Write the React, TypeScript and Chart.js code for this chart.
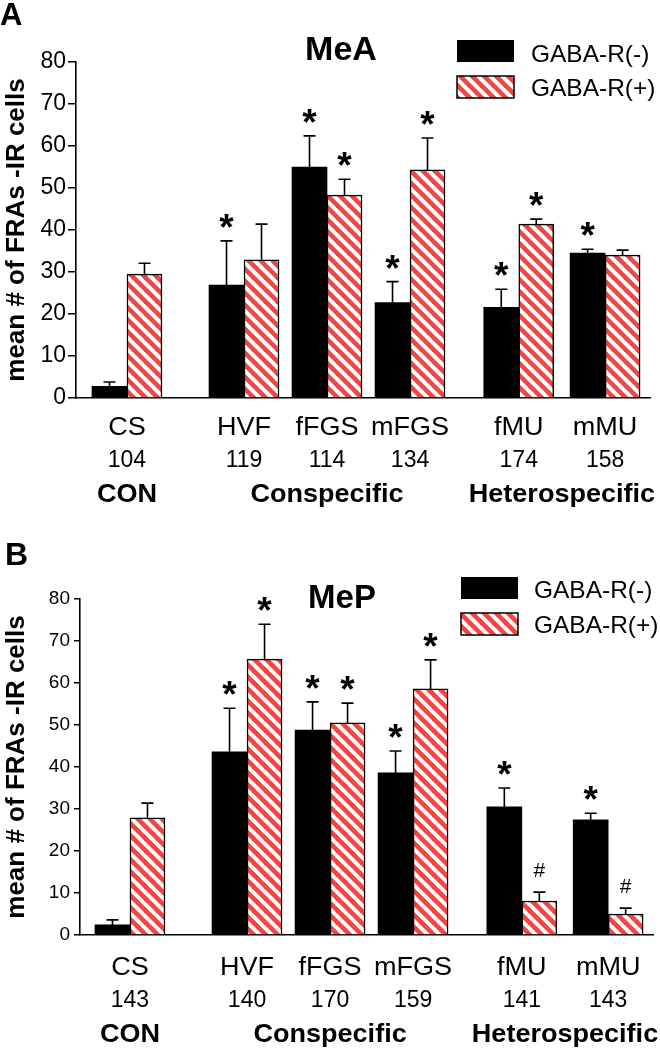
import React, { useEffect, useRef } from 'react';
import { Chart, registerables } from 'chart.js';
Chart.register(...registerables);

const FONT = "'Liberation Sans', Arial, Helvetica, sans-serif";
Chart.defaults.font.family = FONT;
const RED = '#ef4646';

// ---- data ----
const categories = ['CS', 'HVF', 'fFGS', 'mFGS', 'fMU', 'mMU'];
const positions = [1, 2.41, 3.41, 4.41, 5.72, 6.76];
const groups = ['CON', 'Conspecific', 'Heterospecific'];
const groupPositions = [1, 3.41, 6.24];
const seriesLabels = ['GABA-R(-)', 'GABA-R(+)'];
const yTicksMax = 80;
const yTickStep = 10;

const meaN = ['104', '119', '114', '134', '174', '158'];
const meaNeg = [2.8, 26.9, 55.0, 22.7, 21.6, 34.5];
const meaNegErr = [1.0, 10.5, 7.4, 5.0, 4.3, 0.9];
const meaPos = [29.5, 32.9, 48.3, 54.3, 41.4, 34.0];
const meaPosErr = [2.6, 8.5, 3.8, 7.6, 1.2, 1.2];
const meaNegSig = ['', '*', '*', '*', '*', '*'];
const meaPosSig = ['', '', '*', '*', '*', ''];

const mepN = ['143', '140', '170', '159', '141', '143'];
const mepNeg = [2.4, 43.6, 48.8, 38.6, 30.5, 27.4];
const mepNegErr = [1.2, 10.4, 6.7, 5.2, 4.5, 1.6];
const mepPos = [27.9, 65.7, 50.5, 58.6, 8.1, 5.0];
const mepPosErr = [3.5, 8.3, 4.7, 6.9, 2.1, 1.4];
const mepNegSig = ['', '*', '*', '*', '*', '*'];
const mepPosSig = ['', '*', '*', '*', '#', '#'];

type Cfg = {
  h: number; top: number; left: number; bottom: number; right: number;
  xMin: number; xMax: number;
  letter: string; letterX: number; letterY: number; letterSize: number;
  title: string; titleX: number; titleY: number; titleSize: number;
  legX: number; legY1: number; legY2: number; legW: number; legH: number;
  legTextX: number; legBase1: number; legBase2: number; legSize: number;
  tickSize: number; tickLen: number; tickPad: number;
  labelBases: number[];
  n: string[]; neg: number[]; negErr: number[]; pos: number[]; posErr: number[];
  negSig: string[]; posSig: string[];
};

const topCfg: Cfg = {
  h: 525, top: 62, left: 76, bottom: 398, right: 650,
  xMin: 0.386, xMax: 7.301,
  letter: 'A', letterX: 0, letterY: 25, letterSize: 31,
  title: 'MeA', titleX: 341, titleY: 60, titleSize: 34,
  legX: 457, legY1: 40, legY2: 76, legW: 57, legH: 22,
  legTextX: 531, legBase1: 62, legBase2: 96, legSize: 24,
  tickSize: 23, tickLen: 8, tickPad: 2,
  labelBases: [435, 467, 502],
  n: meaN, neg: meaNeg, negErr: meaNegErr, pos: meaPos, posErr: meaPosErr,
  negSig: meaNegSig, posSig: meaPosSig,
};

const botCfg: Cfg = {
  h: 524, top: 74, left: 80, bottom: 410, right: 653,
  xMin: 0.398, xMax: 7.30,
  letter: 'B', letterX: 5, letterY: 40, letterSize: 32,
  title: 'MeP', titleX: 342, titleY: 83, titleSize: 33,
  legX: 461, legY1: 52, legY2: 88, legW: 57, legH: 22,
  legTextX: 534, legBase1: 73, legBase2: 108, legSize: 24,
  tickSize: 19, tickLen: 6, tickPad: 4,
  labelBases: [450, 482, 517],
  n: mepN, neg: mepNeg, negErr: mepNegErr, pos: mepPos, posErr: mepPosErr,
  negSig: mepNegSig, posSig: mepPosSig,
};

function makePattern(): CanvasPattern | string {
  const s = 12;
  const c = document.createElement('canvas');
  c.width = s; c.height = s;
  const g = c.getContext('2d');
  if (!g) return RED;
  g.fillStyle = '#fff';
  g.fillRect(0, 0, s, s);
  g.strokeStyle = RED;
  g.lineWidth = 4.6;
  for (const o of [-s, 0, s]) {
    g.beginPath();
    g.moveTo(o - s, -s);
    g.lineTo(o + 2 * s, 2 * s);
    g.stroke();
  }
  return g.createPattern(c, 'repeat') || RED;
}

function txt(ctx: CanvasRenderingContext2D, s: string, x: number, y: number, font: string, align: CanvasTextAlign = 'center', sx = 1) {
  ctx.save();
  ctx.font = font;
  ctx.fillStyle = '#000';
  ctx.textAlign = align;
  ctx.textBaseline = 'alphabetic';
  ctx.translate(x, y);
  ctx.scale(sx, 1);
  ctx.fillText(s, 0, 0);
  ctx.restore();
}

function Panel({ cfg, offsetTop }: { cfg: Cfg; offsetTop: number }) {
  const ref = useRef<HTMLCanvasElement>(null);
  useEffect(() => {
    if (!ref.current) return;
    const pattern = makePattern();
    const errs = [cfg.negErr, cfg.posErr];
    const sigs = [cfg.negSig, cfg.posSig];

    const errPlugin = {
      id: 'errbars',
      afterDatasetsDraw(chart: any) {
        const ctx = chart.ctx as CanvasRenderingContext2D;
        const ys = chart.scales.y;
        chart.data.datasets.forEach((ds: any, di: number) => {
          const meta = chart.getDatasetMeta(di);
          meta.data.forEach((el: any, i: number) => {
            const v = ds.data[i].y;
            const yTop = ys.getPixelForValue(v + errs[di][i]);
            ctx.save();
            ctx.strokeStyle = '#000';
            ctx.lineWidth = 1.6;
            ctx.beginPath();
            ctx.moveTo(el.x, el.y);
            ctx.lineTo(el.x, yTop);
            ctx.moveTo(el.x - 6, yTop);
            ctx.lineTo(el.x + 6, yTop);
            ctx.stroke();
            ctx.restore();
            const s = sigs[di][i];
            if (s === '*') txt(ctx, '*', el.x, yTop - 1, `bold 37px ${FONT}`);
            else if (s === '#') txt(ctx, '#', el.x, yTop - 15, `21px ${FONT}`);
          });
        });
      },
    };

    const textPlugin = {
      id: 'texts',
      afterDraw(chart: any) {
        const ctx = chart.ctx as CanvasRenderingContext2D;
        const xs = chart.scales.x;
        txt(ctx, cfg.letter, cfg.letterX, cfg.letterY, `bold ${cfg.letterSize}px ${FONT}`, 'left');
        txt(ctx, cfg.title, cfg.titleX, cfg.titleY, `bold ${cfg.titleSize}px ${FONT}`);
        // legend
        ctx.save();
        ctx.fillStyle = '#000';
        ctx.fillRect(cfg.legX, cfg.legY1, cfg.legW, cfg.legH);
        ctx.fillStyle = pattern as any;
        ctx.fillRect(cfg.legX, cfg.legY2, cfg.legW, cfg.legH);
        ctx.strokeStyle = '#000';
        ctx.lineWidth = 1.5;
        ctx.strokeRect(cfg.legX, cfg.legY2, cfg.legW, cfg.legH);
        ctx.restore();
        txt(ctx, seriesLabels[0], cfg.legTextX, cfg.legBase1, `${cfg.legSize}px ${FONT}`, 'left', 1.02);
        txt(ctx, seriesLabels[1], cfg.legTextX, cfg.legBase2, `${cfg.legSize}px ${FONT}`, 'left', 1.02);
        // x labels
        categories.forEach((c, i) => {
          const x = xs.getPixelForValue(positions[i]);
          txt(ctx, c, x, cfg.labelBases[0], `26px ${FONT}`, 'center', 1.04);
          txt(ctx, cfg.n[i], x, cfg.labelBases[1], `23px ${FONT}`, 'center', 1.0);
        });
        groups.forEach((g, i) => {
          const x = xs.getPixelForValue(groupPositions[i]);
          txt(ctx, g, x, cfg.labelBases[2], `bold 26px ${FONT}`, 'center', 1.04);
        });
      },
    };

    const chart = new Chart(ref.current, {
      type: 'bar',
      data: {
        datasets: [
          {
            label: seriesLabels[0],
            data: positions.map((x, i) => ({ x, y: cfg.neg[i] })),
            backgroundColor: '#000',
            borderWidth: 0,
            barThickness: 35,
          },
          {
            label: seriesLabels[1],
            data: positions.map((x, i) => ({ x, y: cfg.pos[i] })),
            backgroundColor: pattern as any,
            borderColor: '#000',
            borderWidth: 1.5,
            barThickness: 35,
          },
        ],
      },
      options: {
        responsive: false,
        animation: false,
        events: [],
        layout: { padding: { top: cfg.top, right: 660 - cfg.right, left: 0, bottom: 0 } },
        plugins: { legend: { display: false }, tooltip: { enabled: false }, title: { display: false } },
        scales: {
          x: {
            type: 'linear',
            min: cfg.xMin,
            max: cfg.xMax,
            offset: false,
            grid: { display: false },
            border: { display: true, color: '#000', width: 1.6 },
            ticks: { display: false },
            afterFit: (s: any) => { s.height = cfg.h - cfg.bottom; },
          },
          y: {
            min: 0,
            max: yTicksMax,
            ticks: { stepSize: yTickStep, color: '#000', font: { size: cfg.tickSize }, padding: cfg.tickPad },
            grid: { drawOnChartArea: false, drawTicks: true, tickLength: cfg.tickLen, color: '#000', lineWidth: 1.5 },
            border: { display: true, color: '#000', width: 1.6 },
            title: {
              display: true,
              text: 'mean # of FRAs -IR cells',
              color: '#000',
              font: { size: 26, weight: 'bold' },
              padding: { top: 1, bottom: 0 },
            },
            afterFit: (s: any) => { s.width = cfg.left; },
          },
        },
      } as any,
      plugins: [errPlugin, textPlugin],
    });
    return () => chart.destroy();
  }, []);
  return (
    <canvas
      ref={ref}
      width={660}
      height={cfg.h}
      style={{ position: 'absolute', left: 0, top: offsetTop, width: 660, height: cfg.h, display: 'block' }}
    />
  );
}

export default function App() {
  return (
    <div style={{ position: 'absolute', left: 0, top: 0, width: 660, height: 1049, background: '#fff', overflow: 'hidden' }}>
      <Panel cfg={topCfg} offsetTop={0} />
      <Panel cfg={botCfg} offsetTop={525} />
    </div>
  );
}
